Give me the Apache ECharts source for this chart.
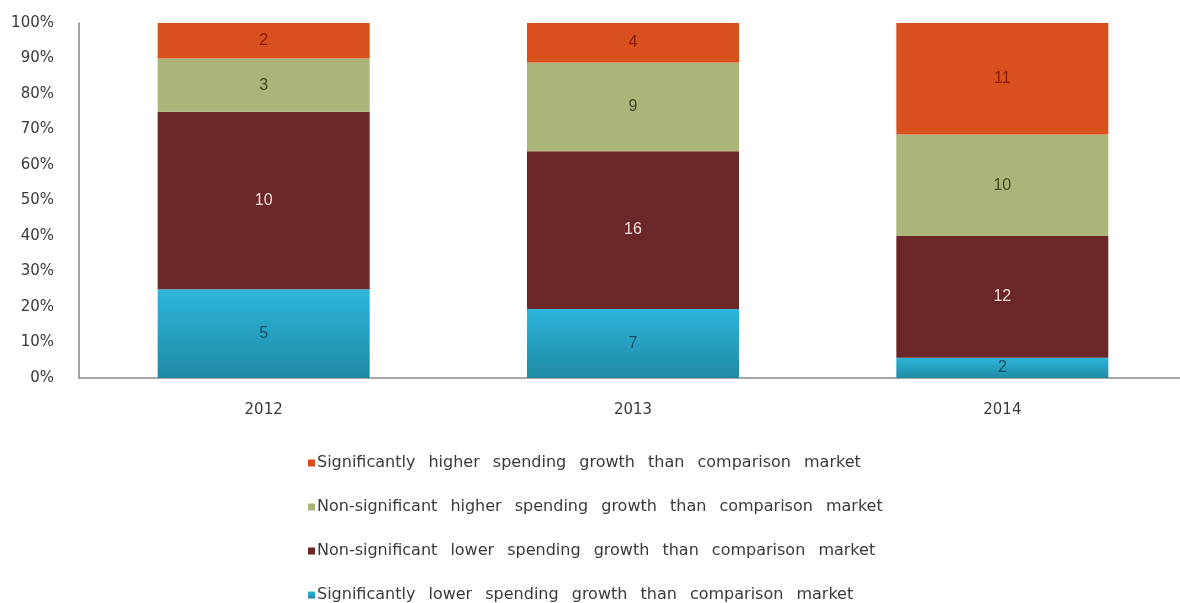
<!DOCTYPE html>
<html>
<head>
<meta charset="utf-8">
<script src="https://cdn.jsdelivr.net/npm/echarts@6/dist/echarts.min.js"></script>
<style>
  html, body { margin: 0; padding: 0; background: #fff; }
  #chart { width: 1180px; height: 603px; }
</style>
</head>
<body>
<div id="chart"></div>
<script>
// Years on the category axis
const years = ['2012', '2013', '2014'];

// Number of markets in each group, per year (bottom to top of each stack)
const sigLower = [5, 7, 2];
const nonSigLower = [10, 16, 12];
const nonSigHigher = [3, 9, 10];
const sigHigher = [2, 4, 11];

// Y axis tick labels
const yTicks = ['0%', '10%', '20%', '30%', '40%', '50%', '60%', '70%', '80%', '90%', '100%'];

// Series names as shown in the legend
const names = [
  'Significantly higher spending growth than comparison market',
  'Non-significant higher spending growth than comparison market',
  'Non-significant lower spending growth than comparison market',
  'Significantly lower spending growth than comparison market'
];

// Yearly totals, used to turn counts into shares of 100%
const totals = years.map((_, i) => sigLower[i] + nonSigLower[i] + nonSigHigher[i] + sigHigher[i]);
const share = arr => arr.map((v, i) => ({ value: v / totals[i] * 100, count: v }));

const chart = echarts.init(document.getElementById('chart'));

function stackSeries(name, counts, color, labelColor) {
  return {
    name: name,
    type: 'bar',
    stack: 'all',
    barWidth: 212,
    data: share(counts),
    itemStyle: { color: color },
    label: {
      show: true,
      position: 'inside',
      color: labelColor,
      fontFamily: 'Liberation Sans',
      fontSize: 16,
      formatter: p => String(p.data.count)
    }
  };
}

const blueGradient = new echarts.graphic.LinearGradient(0, 0, 0, 1, [
  { offset: 0, color: '#2db6db' },
  { offset: 1, color: '#1f8aa3' }
]);

const axisFont = {
  color: '#3a3a3a',
  fontFamily: 'DejaVu Sans, sans-serif',
  fontSize: 15,
  margin: 25
};

chart.setOption({
  animation: false,
  backgroundColor: '#ffffff',
  grid: { left: 79, top: 23, bottom: 225, width: 1108, outerBoundsMode: 'none' },
  legend: {
    orient: 'vertical',
    left: 303,
    top: 448,
    height: 160,
    itemWidth: 7,
    itemHeight: 7,
    itemGap: 24,
    icon: 'rect',
    data: names,
    // wide word spacing in the legend text
    formatter: n => n.split(' ').join(' \u2002'),
    textStyle: {
      color: '#3a3a3a',
      fontFamily: 'DejaVu Sans, sans-serif',
      fontSize: 16,
      lineHeight: 20,
      padding: [0, 0, 0, -3]
    }
  },
  xAxis: {
    type: 'category',
    data: years,
    axisLine: { lineStyle: { color: '#8a8a8a', width: 1.5 } },
    axisTick: { show: false },
    axisLabel: axisFont
  },
  yAxis: {
    type: 'value',
    min: 0,
    max: 100,
    interval: 10,
    axisLine: { show: true, lineStyle: { color: '#8a8a8a', width: 1.5 } },
    axisTick: { show: false },
    splitLine: { show: false },
    axisLabel: Object.assign({}, axisFont, {
      formatter: v => yTicks[Math.round(v / 10)]
    })
  },
  series: [
    stackSeries(names[3], sigLower, blueGradient, '#1b4d66'),
    stackSeries(names[2], nonSigLower, '#6b2727', '#f2dcd8'),
    stackSeries(names[1], nonSigHigher, '#abb57a', '#3f4a22'),
    stackSeries(names[0], sigHigher, '#d9501f', '#8a1a05')
  ]
});
</script>
</body>
</html>
